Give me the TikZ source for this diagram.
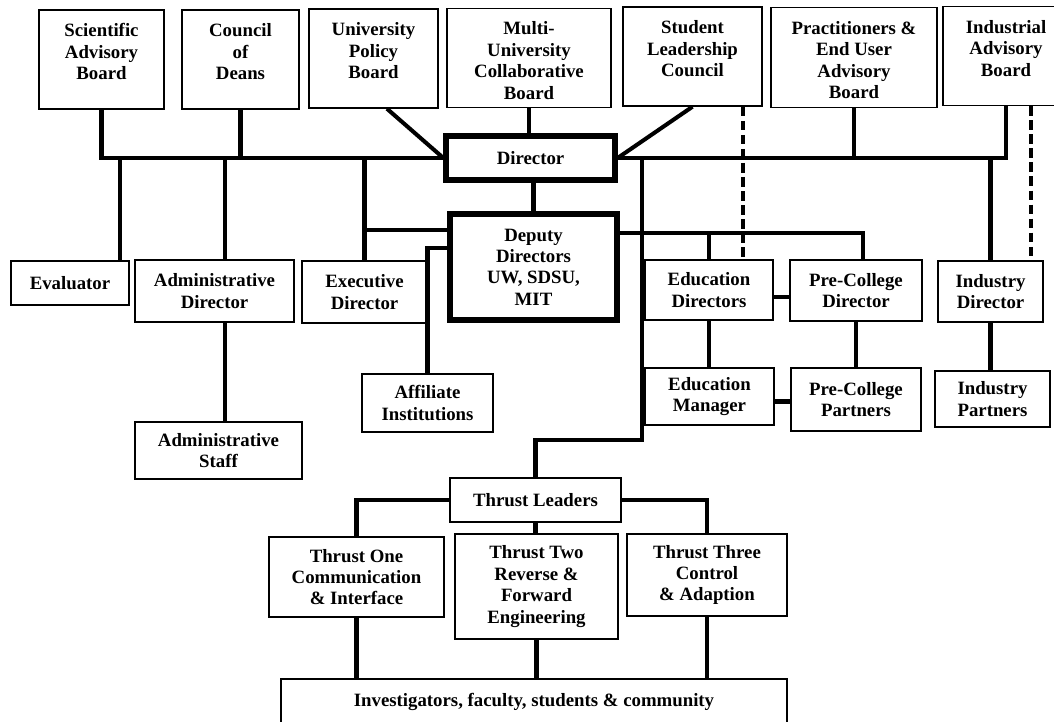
\documentclass[tikz,border=0pt]{standalone}
\usepackage{fontspec}
\setmainfont{Liberation Serif}
\newcommand{\boxfont}{\fontsize{10.7}{12.2}\selectfont\bfseries}

\begin{document}
\begin{tikzpicture}[
    x=0.02cm, y=-0.02cm,
    box/.style={draw, line width=0.8pt, fill=white, align=center, font=\boxfont},
    topbox/.style={box, inner ysep=0pt, text height=1.39cm, text depth=0.59cm},
    topfour/.style={topbox, text height=1.82cm, text depth=0.17cm},
    bigbox/.style={box, line width=3pt},
    conn/.style={line width=2.3pt},
    dashconn/.style={conn, dash pattern=on 5.5pt off 2.5pt}
]
    \path[use as bounding box, fill=white] (0,0) rectangle (1054,721);
    \clip (0,0) rectangle (1054,721);

    % Boards along the top
    \node[topbox, minimum width=2.5cm] (sab) at (101.5,59.5) {Scientific\\Advisory\\Board};
    \node[topbox, minimum width=2.34cm] (cod) at (240.5,59.5) {Council\\of\\Deans};
    \node[topbox, minimum width=2.58cm] (upb) at (373.5,58.5) {University\\Policy\\Board};
    \node[topfour, minimum width=3.28cm] (mucb) at (529,58) {Multi-\\University\\Collaborative\\Board};
    \node[topbox, minimum width=2.78cm] (slc) at (692.5,56.5) {Student\\Leadership\\Council};
    \node[topfour, minimum width=3.32cm] (peab) at (854,57.5) {Practitioners \&\\End User\\Advisory\\Board};
    \node[topbox, minimum width=2.52cm] (iab) at (1006,56) {Industrial\\Advisory\\Board};

    % Director and deputies
    \node[bigbox, minimum width=3.38cm, minimum height=0.88cm] (director) at (530.5,158) {Director};
    \node[bigbox, minimum width=3.34cm, minimum height=2.12cm] (deputy) at (533.5,267) {Deputy\\Directors\\UW, SDSU,\\MIT};

    % Second row
    \node[box, minimum width=2.36cm, minimum height=0.88cm] (eval) at (70,283) {Evaluator};
    \node[box, minimum width=3.18cm, minimum height=1.24cm] (admdir) at (214.5,291) {Administrative\\Director};
    \node[box, minimum width=2.5cm, minimum height=1.24cm] (execdir) at (364.5,292) {Executive\\Director};
    \node[box, minimum width=2.56cm, minimum height=1.2cm] (eddir) at (709,290) {Education\\Directors};
    \node[box, minimum width=2.64cm, minimum height=1.22cm] (pcdir) at (856,290.5) {Pre-College\\Director};
    \node[box, minimum width=2.1cm, minimum height=1.22cm] (inddir) at (990.5,291.5) {Industry\\Director};

    % Third row
    \node[box, minimum width=3.34cm, minimum height=1.14cm] (admstaff) at (218.5,450.5) {Administrative\\Staff};
    \node[box, minimum width=2.62cm, minimum height=1.16cm] (affil) at (427.5,403) {Affiliate\\Institutions};
    \node[box, minimum width=2.58cm, minimum height=1.14cm] (edman) at (709.5,396.5) {Education\\Manager};
    \node[box, minimum width=2.6cm, minimum height=1.26cm] (pcpart) at (856,399.5) {Pre-College\\Partners};
    \node[box, minimum width=2.3cm, minimum height=1.12cm] (indpart) at (992.5,399) {Industry\\Partners};

    % Thrusts
    \node[box, minimum width=3.42cm, minimum height=0.88cm] (tl) at (535.5,500) {Thrust Leaders};
    \node[box, minimum width=3.5cm, minimum height=1.6cm] (t1) at (356.5,577) {Thrust One\\Communication\\\& Interface};
    \node[box, minimum width=3.26cm, minimum height=2.1cm] (t2) at (536.5,586.5) {Thrust Two\\Reverse \&\\Forward\\Engineering};
    \node[box, minimum width=3.2cm, minimum height=1.64cm] (t3) at (707,575) {Thrust Three\\Control\\\& Adaption};
    \node[topbox, text height=0.54cm, text depth=0.68cm, minimum width=10.12cm] (inv) at (534,709.5) {Investigators, faculty, students \& community};

    % Boards to director
    \draw[conn] (sab.south) |- (director.west);
    \draw[conn] (cod.south) -- (cod.south |- director.west);
    \draw[conn] (upb.-75) -- (director.west);
    \draw[conn] (mucb.south) -- (mucb.south |- director.north);
    \draw[conn] (slc.south) -- (director.east);
    \draw[conn] (director.east) -| (iab.south);
    \draw[conn] (peab.south) -- (peab.south |- director.east);

    % Left branch
    \draw[conn] ([xshift=-0.2cm]eval.north east) -- ([xshift=-0.2cm]eval.north east |- director.west);
    \draw[conn] ([xshift=0.21cm]admdir.north) -- ([xshift=0.21cm]admdir.north |- director.west);
    \draw[conn] ([xshift=0.21cm]admdir.south) -- ([xshift=0.21cm]admdir.south |- admstaff.north);
    \draw[conn] (execdir.north) -- (execdir.north |- director.west);
    \draw[conn] ([yshift=0.74cm]deputy.west) -- ([yshift=0.74cm]deputy.west -| execdir.north);
    \draw[conn] ([yshift=0.38cm]deputy.west) -| (affil.north);

    % Deputies
    \draw[conn] (deputy.north |- director.south) -- (deputy.north);
    \coordinate (dr) at ([yshift=0.68cm]deputy.east);
    \draw[conn] (dr) -| ([xshift=0.14cm]pcdir.north);
    \draw[conn] (eddir.north) -- (eddir.north |- dr);
    \draw[conn] ([yshift=-0.14cm]eddir.east) -- ([yshift=-0.14cm]eddir.east -| pcdir.west);
    \draw[conn] (eddir.south) -- (eddir.south |- edman.north);
    \draw[conn] (pcdir.south) -- (pcdir.south |- pcpart.north);
    \draw[conn] ([yshift=-0.1cm]edman.east) -- ([yshift=-0.1cm]edman.east -| pcpart.west);

    % Industry
    \draw[conn] (inddir.north) -- (inddir.north |- director.east);
    \draw[conn] (inddir.south) -- (inddir.south |- indpart.north);
    \draw[dashconn] ([xshift=0.5cm]iab.south) -- ([xshift=0.5cm]iab.south |- inddir.north);
    \draw[dashconn] ([xshift=1.01cm]slc.south) -- ([xshift=1.01cm]slc.south |- eddir.north);

    % Down to the thrusts
    \coordinate (thrustbend) at (642,440);
    \draw[conn] (thrustbend |- director.east) -- (thrustbend) -| (tl.north);
    \draw[conn] (tl.west) -| (t1.north);
    \draw[conn] (tl.east) -| (t3.north);
    \draw[conn] (tl.south) -- (tl.south |- t2.north);
    \draw[conn] (t1.south) -- (t1.south |- inv.north);
    \draw[conn] (t2.south) -- (t2.south |- inv.north);
    \draw[conn] (t3.south) -- (t3.south |- inv.north);
\end{tikzpicture}
\end{document}
